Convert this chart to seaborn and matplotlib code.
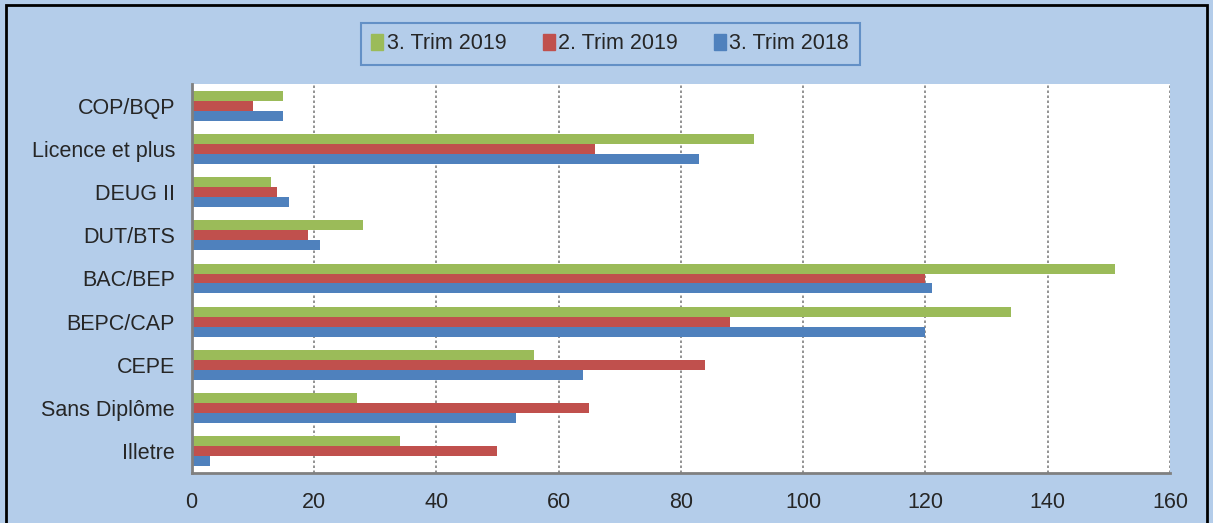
import matplotlib
matplotlib.use("Agg")
import matplotlib.pyplot as plt
from matplotlib.patches import Rectangle
from matplotlib.ticker import FixedLocator
import seaborn as sns
import pandas as pd

categories = ["COP/BQP", "Licence et plus", "DEUG II", "DUT/BTS", "BAC/BEP",
              "BEPC/CAP", "CEPE", "Sans Diplôme", "Illetre"]
trim3_2019 = [15, 92, 13, 28, 151, 134, 56, 27, 34]
trim2_2019 = [10, 66, 14, 19, 120, 88, 84, 65, 50]
trim3_2018 = [15, 83, 16, 21, 121, 120, 64, 53, 3]
series = ["3. Trim 2019", "2. Trim 2019", "3. Trim 2018"]
colors = ["#9BBB59", "#C0504D", "#4F81BD"]
xticks = [0, 20, 40, 60, 80, 100, 120, 140, 160]

df = pd.DataFrame({
    "cat": categories * 3,
    "val": trim3_2019 + trim2_2019 + trim3_2018,
    "serie": [series[0]] * 9 + [series[1]] * 9 + [series[2]] * 9,
})

bg = "#B4CDEA"
sns.set_style("white")
plt.rcParams["font.family"] = ["Liberation Sans", "DejaVu Sans"]

fig = plt.figure(figsize=(12.13, 5.23), dpi=100, facecolor=bg)
ax = fig.add_axes([0.158, 0.0956, 0.8066, 0.7438])

sns.barplot(data=df, x="val", y="cat", hue="serie", order=categories,
            hue_order=series, palette=colors, width=0.69, orient="h",
            linewidth=0, saturation=1, ax=ax)

ax.set_xlim(0, 160)
ax.set_ylim(len(categories) - 0.5, -0.5)
ax.set_xticks(xticks)
ax.set_xticklabels([str(t) for t in xticks], fontsize=15.5)
ax.set_xlabel("")
ax.set_ylabel("")
ax.tick_params(axis="y", which="major", length=0, labelsize=15.5, pad=12)
ax.yaxis.set_minor_locator(FixedLocator([i - 0.5 for i in range(len(categories) + 1)]))
ax.tick_params(axis="y", which="minor", length=5, width=1.5, color="#808080", direction="out")
ax.tick_params(axis="x", length=6, width=1.5, color="#808080", direction="out", pad=8)
ax.xaxis.grid(True, linestyle=(0, (1.5, 1.5)), color="#808080", linewidth=1.2)
ax.set_axisbelow(True)
for s in ["top", "right"]:
    ax.spines[s].set_visible(False)
for s in ["left", "bottom"]:
    ax.spines[s].set_color("#808080")
    ax.spines[s].set_linewidth(2)
ax.set_facecolor("white")

ax.legend_.remove()
handles = [Rectangle((0, 0), 1, 1, color=c) for c in colors]
leg = fig.legend(handles, series, loc="center", bbox_to_anchor=(0.503, 0.916),
                 ncol=3, fontsize=15.5, frameon=True, fancybox=False,
                 handlelength=0.55, handleheight=0.8, handletextpad=0.15,
                 columnspacing=1.7, borderpad=0.5, borderaxespad=0)
leg.get_frame().set_facecolor(bg)
leg.get_frame().set_edgecolor("#4F81BD")
leg.get_frame().set_linewidth(1.5)

fig.patches.append(Rectangle((0.005, -0.1), 0.99, 1.09, transform=fig.transFigure,
                             fill=False, edgecolor="black", linewidth=2))

fig.savefig("out.png", dpi=100, facecolor=bg)
